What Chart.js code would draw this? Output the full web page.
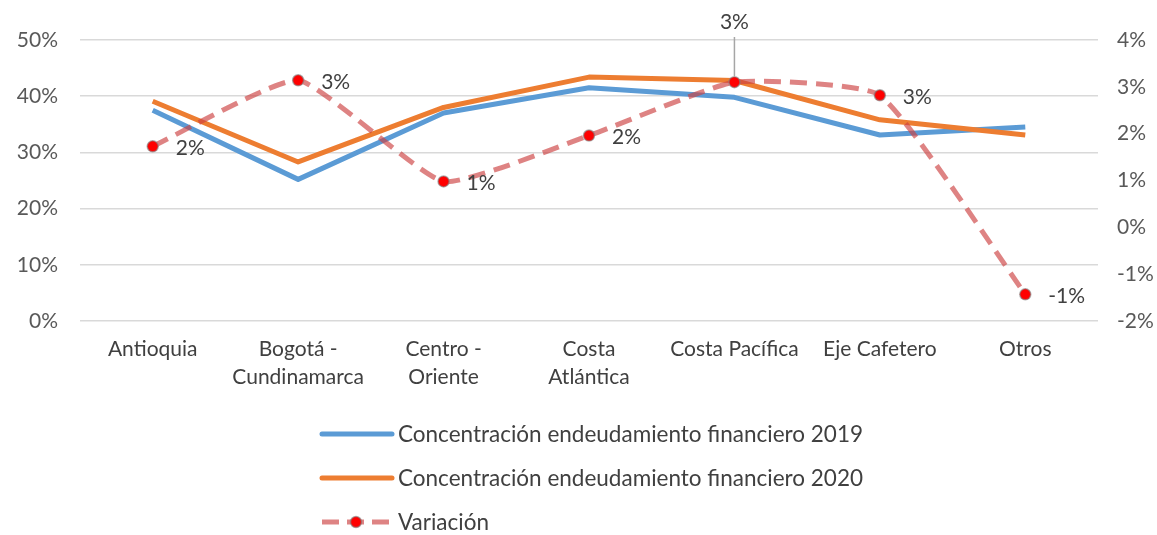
<!DOCTYPE html>
<html>
<head>
<meta charset="utf-8">
<script src="https://cdn.jsdelivr.net/npm/chart.js@4"></script>
<style>
  html, body { margin: 0; padding: 0; background: #ffffff; }
  #wrap { width: 1157px; height: 535px; position: relative; }
</style>
</head>
<body>
<div id="wrap"><canvas id="c" width="1157" height="535"></canvas></div>
<script>
const categories = [
  'Antioquia',
  ['Bogotá -', 'Cundinamarca'],
  ['Centro -', 'Oriente'],
  ['Costa', 'Atlántica'],
  'Costa Pacífica',
  'Eje Cafetero',
  'Otros'
];
const seriesNames = [
  'Concentración endeudamiento financiero 2019',
  'Concentración endeudamiento financiero 2020',
  'Variación'
];
const conc2019 = [37.5, 25.2, 37.0, 41.5, 39.8, 33.1, 34.5];
const conc2020 = [39.1, 28.3, 38.0, 43.4, 42.8, 35.8, 33.1];
const variacion = [1.73, 3.14, 0.98, 1.96, 3.10, 2.82, -1.43];
const leftTicks = [0, 10, 20, 30, 40, 50];
const rightTicks = [-2, -1, 0, 1, 2, 3, 4];

const FONT = 'Lato, "Open Sans", sans-serif';
const FSIZE = 21;
const LEG_FSIZE = 22.5;
const BLUE = '#5b9bd5';
const ORANGE = '#ed7d31';
const DASH = 'rgba(204,64,64,0.65)';
const TEXT = '#404040';
const TICK = '#595959';

const labelPlugin = {
  id: 'varLabels',
  afterDatasetsDraw(chart) {
    const ctx = chart.ctx;
    const meta = chart.getDatasetMeta(2);
    ctx.save();
    ctx.font = FSIZE + 'px ' + FONT;
    ctx.fillStyle = TEXT;
    meta.data.forEach((pt, i) => {
      const txt = Math.round(variacion[i]) + '%';
      if (i === 4) {
        ctx.strokeStyle = '#a6a6a6';
        ctx.lineWidth = 1.5;
        ctx.beginPath();
        ctx.moveTo(pt.x, 37);
        ctx.lineTo(pt.x, pt.y - 6);
        ctx.stroke();
        ctx.textAlign = 'center';
        ctx.textBaseline = 'middle';
        ctx.fillText(txt, pt.x, 22);
      } else {
        ctx.textAlign = 'left';
        ctx.textBaseline = 'middle';
        ctx.fillText(txt, pt.x + 23, pt.y + 2);
      }
    });
    ctx.restore();
  }
};

const legendPlugin = {
  id: 'customLegend',
  afterDraw(chart) {
    const ctx = chart.ctx;
    const x0 = 322, x1 = 392, tx = 398;
    const ys = [434, 478, 522];
    ctx.save();
    ctx.lineCap = 'round';
    ctx.lineWidth = 5;
    ctx.strokeStyle = BLUE;
    ctx.beginPath(); ctx.moveTo(x0, ys[0]); ctx.lineTo(x1, ys[0]); ctx.stroke();
    ctx.strokeStyle = ORANGE;
    ctx.beginPath(); ctx.moveTo(x0, ys[1]); ctx.lineTo(x1, ys[1]); ctx.stroke();
    ctx.lineCap = 'butt';
    ctx.strokeStyle = DASH;
    ctx.setLineDash([17, 8]);
    ctx.beginPath(); ctx.moveTo(x0, ys[2]); ctx.lineTo(x1, ys[2]); ctx.stroke();
    ctx.setLineDash([]);
    ctx.beginPath();
    ctx.arc(356, ys[2], 5.5, 0, Math.PI * 2);
    ctx.fillStyle = '#ff0000';
    ctx.fill();
    ctx.strokeStyle = 'rgba(128,128,128,0.6)';
    ctx.lineWidth = 1.5;
    ctx.stroke();
    ctx.font = LEG_FSIZE + 'px ' + FONT;
    ctx.fillStyle = TEXT;
    ctx.textAlign = 'left';
    ctx.textBaseline = 'middle';
    seriesNames.forEach((n, i) => ctx.fillText(n, tx, ys[i] + 1));
    ctx.restore();
  }
};

new Chart(document.getElementById('c'), {
  type: 'line',
  data: {
    labels: categories,
    datasets: [
      {
        label: seriesNames[0], data: conc2019, yAxisID: 'y',
        borderColor: BLUE, backgroundColor: BLUE, borderWidth: 5,
        pointRadius: 0, tension: 0, order: 2, borderJoinStyle: 'round'
      },
      {
        label: seriesNames[1], data: conc2020, yAxisID: 'y',
        borderColor: ORANGE, backgroundColor: ORANGE, borderWidth: 5,
        pointRadius: 0, tension: 0, order: 1, borderJoinStyle: 'round'
      },
      {
        label: seriesNames[2], data: variacion, yAxisID: 'y2',
        borderColor: DASH, backgroundColor: '#ff0000', borderWidth: 5,
        borderDash: [17, 9], tension: 0.15,
        pointRadius: 5.5, pointBackgroundColor: '#ff0000',
        pointBorderColor: 'rgba(128,128,128,0.6)', pointBorderWidth: 1.5,
        order: 0
      }
    ]
  },
  options: {
    responsive: false,
    animation: false,
    events: [],
    layout: { padding: { top: 40, bottom: 135, left: 0, right: 0 } },
    plugins: { legend: { display: false }, tooltip: { enabled: false } },
    scales: {
      x: {
        offset: true,
        grid: { display: false, drawTicks: false },
        border: { display: false },
        ticks: { color: TEXT, font: { family: FONT, size: FSIZE, lineHeight: 1.35 }, padding: 14, maxRotation: 0, autoSkip: false },
        afterFit(s) { s.height = 79; }
      },
      y: {
        position: 'left', min: 0, max: 50,
        afterBuildTicks(s) { s.ticks = leftTicks.map(v => ({ value: v })); },
        grid: { color: '#d9d9d9', lineWidth: 1.5, drawTicks: false },
        border: { display: false },
        ticks: { color: TICK, font: { family: FONT, size: FSIZE }, padding: 22, callback: v => v + '%' },
        afterFit(s) { s.width = 80; }
      },
      y2: {
        position: 'right', min: -2, max: 4,
        afterBuildTicks(s) { s.ticks = rightTicks.map(v => ({ value: v })); },
        grid: { display: false, drawTicks: false },
        border: { display: false },
        ticks: { color: TICK, font: { family: FONT, size: FSIZE }, padding: 19, callback: v => v + '%' },
        afterFit(s) { s.width = 59; }
      }
    }
  },
  plugins: [labelPlugin, legendPlugin]
});
</script>
</body>
</html>
